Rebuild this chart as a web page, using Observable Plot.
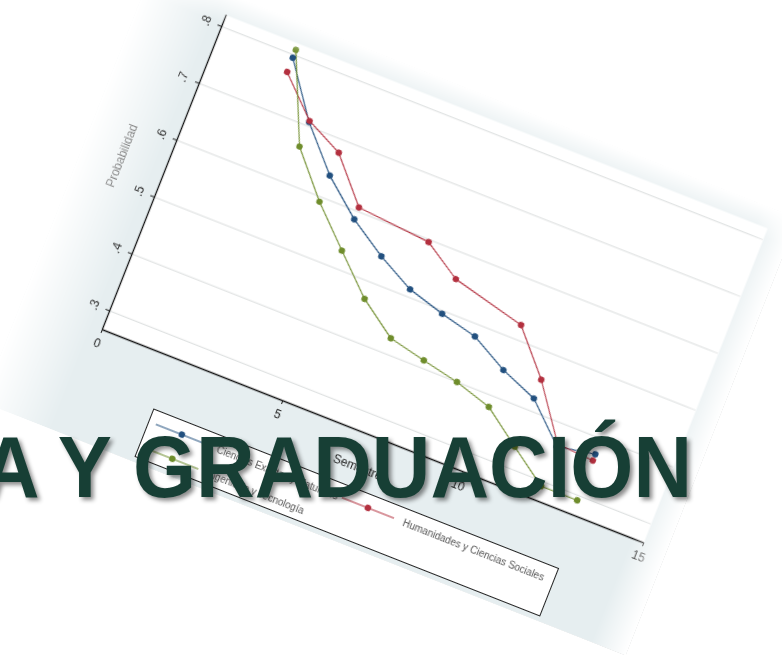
<!DOCTYPE html>
<html><head><meta charset="utf-8">
<script src="https://cdn.jsdelivr.net/npm/d3@7"></script>
<script src="https://cdn.jsdelivr.net/npm/@observablehq/plot@0.6"></script>
<style>
html,body{margin:0;padding:0;background:#fff;width:782px;height:655px;overflow:hidden;position:relative;font-family:"Liberation Sans",Arial,sans-serif}
.rot{position:absolute;left:16.7px;top:-28.7px;width:692px;height:470px;transform-origin:85px 358px;transform:rotate(21.5deg)}
#shadow{box-shadow:4px 10px 16px rgba(0,0,0,0.28);background:#fff;
 -webkit-mask-image:linear-gradient(to right,transparent 0,transparent 60px,black 160px);mask-image:linear-gradient(to right,transparent 0,transparent 60px,black 160px)}
#chart{background:#e6eef0;
 -webkit-mask-image:linear-gradient(to right,transparent 0,black 75px,black 655px,transparent 692px),linear-gradient(to bottom,transparent 0,black 30px);
 -webkit-mask-composite:source-in;
 mask-image:linear-gradient(to right,transparent 0,black 75px,black 655px,transparent 692px),linear-gradient(to bottom,transparent 0,black 30px);
 mask-composite:intersect;filter:blur(0.35px)}
#chart svg{position:absolute;left:0;top:0}
#legend{position:absolute;left:162px;top:413px;width:436px;height:52px;box-sizing:border-box;border:1.2px solid #222;background:#fff;font-size:10px;color:#555}
.item{position:absolute;display:flex;align-items:center;white-space:nowrap}
.item svg{position:static!important;margin-right:10px}
#big{position:absolute;left:0;top:0}
</style></head>
<body>
<div id="shadow" class="rot"></div>
<div id="chart" class="rot"><div id="legend"></div></div>
<svg id="big" width="782" height="655"></svg>
<script>
// ---- data ----
const seriesNames = ["Ciencias Exactas y Naturales", "Humanidades y Ciencias Sociales", "Ingeniería y Tecnología"];
const seriesColors = ["#22507f", "#b3303f", "#6f8d2c"];
const semestresAzul = [2,3,4,5,6,7,8,9,10,11,12,13];
const valoresAzul   = [0.795,0.707,0.638,0.586,0.546,0.513,0.495,0.480,0.446,0.421,0.362,0.373];
const semestresRojo = [2,3,4,5,7,8,10,11,12,13];
const valoresRojo   = [0.770,0.709,0.678,0.607,0.596,0.556,0.525,0.454,0.366,0.362];
const semestresVerde= [2,3,4,5,6,7,8,9,10,11,12,13];
const valoresVerde  = [0.809,0.664,0.592,0.531,0.471,0.427,0.413,0.400,0.381,0.336,0.292,0.292];
const xTicks = [0,5,10,15];
const yTicks = [0.3,0.4,0.5,0.6,0.7,0.8];
const xDomain = [0,15];
const yDomain = [0.267,0.82];
const overlayText = "A Y GRADUACIÓN";

const rows = [];
semestresAzul.forEach((s,i)=>rows.push({serie:seriesNames[0], x:s, y:valoresAzul[i]}));
semestresRojo.forEach((s,i)=>rows.push({serie:seriesNames[1], x:s, y:valoresRojo[i]}));
semestresVerde.forEach((s,i)=>rows.push({serie:seriesNames[2], x:s, y:valoresVerde[i]}));

const chart = Plot.plot({
  width:692, height:403, marginLeft:85, marginRight:25, marginTop:20, marginBottom:45,
  style:{background:"transparent", fontFamily:"Liberation Sans, Arial, sans-serif", fontSize:"11px", color:"#222"},
  x:{domain:xDomain},
  y:{domain:yDomain},
  color:{domain:seriesNames, range:seriesColors},
  marks:[
    Plot.frame({fill:"white", stroke:null}),
    Plot.gridY(yTicks, {stroke:"#d9dcdc", strokeOpacity:1, strokeWidth:1}),
    Plot.ruleX([xDomain[0]], {stroke:"#111", strokeWidth:1.3}),
    Plot.ruleY([yDomain[0]], {stroke:"#111", strokeWidth:1.3}),
    Plot.line(rows, {x:"x", y:"y", stroke:"serie", strokeWidth:1.1}),
    Plot.dot(rows, {x:"x", y:"y", fill:"serie", r:3.2}),
    Plot.axisX({ticks:xTicks, tickSize:4, tickPadding:6, label:"Semestres", labelAnchor:"center", labelArrow:"none", labelOffset:38, fontSize:12}),
    Plot.axisY({ticks:yTicks, tickSize:4, tickPadding:9, tickRotate:-90, tickFormat:d=>"."+Math.round(d*10), label:"Probabilidad", labelAnchor:"center", labelArrow:"none", labelOffset:50, fontSize:12})
  ]
});
document.getElementById("chart").prepend(chart);

// legend (2 columns, row-wise order)
const legend = document.getElementById("legend");
const pos = [[7,13],[207,13],[7,39]];
seriesNames.forEach((n,i)=>{
  const d = document.createElement("div");
  d.className="item";
  d.style.left = pos[i][0]+"px"; d.style.top = (pos[i][1]-7)+"px";
  d.innerHTML = `<svg width="56" height="14"><line x1="0" x2="56" y1="7" y2="7" stroke="${seriesColors[i]}" stroke-width="1.2"/><circle cx="28" cy="7" r="3.2" fill="${seriesColors[i]}"/></svg><span>${n}</span>`;
  legend.appendChild(d);
});

// big overlay text
const big = d3.select("#big");
big.append("text").attr("x",-19).attr("y",497)
  .attr("textLength",711).attr("lengthAdjust","spacingAndGlyphs")
  .attr("font-family","Liberation Sans, Arial, sans-serif").attr("font-weight","bold")
  .attr("font-size",87).attr("fill","#173f35")
  .style("filter","drop-shadow(3px 3px 2px rgba(0,0,0,0.45))")
  .text(overlayText);
</script>
</body></html>
